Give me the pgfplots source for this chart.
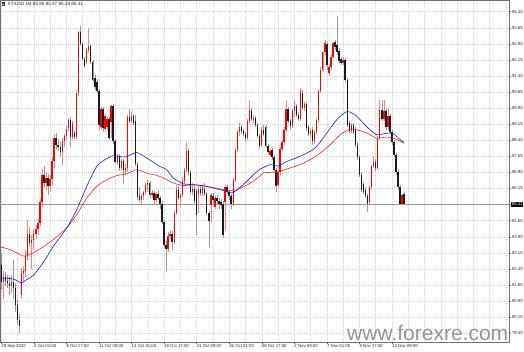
\documentclass[border=0pt]{standalone}
\usepackage{pgfplots}
\pgfplotsset{compat=1.18}
\usepackage{pgfplotstable}
\usepackage{fontspec}
\setmainfont{Liberation Sans}
\definecolor{gridc}{RGB}{205,212,218}
\definecolor{mablue}{RGB}{25,25,225}
\definecolor{mared}{RGB}{245,30,30}
\pgfplotstableread{
i o h l c
0 82.60 83.15 81.40 81.80
1 81.80 82.30 81.00 82.00
2 82.00 82.25 81.60 81.85
3 81.85 82.10 81.50 81.75
4 81.75 82.00 81.20 81.60
5 81.60 82.10 81.30 81.80
6 81.80 82.80 81.00 81.50
7 81.50 81.75 80.40 80.70
8 80.70 80.95 79.80 80.00
9 80.00 80.30 79.40 79.75
10 81.20 82.45 81.00 82.20
11 82.20 82.55 81.80 82.30
12 82.30 83.30 82.00 83.00
13 83.00 84.70 82.80 84.05
14 84.05 84.35 83.40 83.60
15 83.60 84.00 82.40 83.75
16 83.75 84.25 83.30 84.05
17 84.05 84.45 83.80 84.25
18 84.25 84.75 84.00 84.55
19 84.55 85.65 84.40 85.50
20 85.50 87.05 85.30 86.80
21 86.80 87.20 86.20 86.40
22 86.40 86.90 86.10 86.65
23 86.65 86.85 85.85 86.25
24 86.25 86.80 86.00 86.60
25 86.60 87.60 86.30 87.45
26 87.45 88.70 87.10 88.50
27 88.50 88.75 88.00 88.20
28 88.20 88.45 87.90 88.10
29 88.10 88.30 87.60 87.85
30 87.85 88.50 87.25 88.35
31 88.35 88.70 88.10 88.60
32 88.60 89.05 88.40 88.95
33 88.95 89.45 88.85 89.35
34 89.35 89.50 88.10 88.55
35 88.55 89.30 88.45 89.20
36 88.75 88.85 88.45 88.55
37 88.55 90.75 88.45 90.60
38 90.60 93.50 90.45 93.45
39 93.45 93.75 92.80 92.90
40 92.90 93.00 92.10 92.20
41 92.20 92.30 91.75 91.85
42 92.05 92.70 91.95 92.60
43 92.60 93.65 92.45 92.80
44 92.80 92.90 91.95 92.05
45 92.05 92.15 91.10 91.20
46 91.30 91.45 90.75 90.90
47 91.10 91.25 90.60 90.70
48 90.70 90.80 88.90 89.10
49 89.00 89.95 88.90 89.85
50 89.85 89.95 88.80 88.95
51 88.95 89.65 88.85 89.55
52 89.00 89.50 88.90 89.40
53 89.40 89.50 88.40 88.50
54 89.25 90.05 88.50 90.00
55 90.00 90.10 88.25 88.35
56 88.35 88.45 87.30 87.40
57 87.40 87.75 87.25 87.65
58 87.65 87.75 86.95 87.10
59 87.10 87.55 87.00 87.45
60 87.45 87.55 86.40 87.00
61 87.00 87.30 86.80 87.10
62 87.10 89.60 86.90 89.50
63 89.50 89.85 89.20 89.30
64 89.30 89.70 89.20 89.55
65 89.55 89.65 89.10 89.20
66 89.30 89.60 87.20 87.30
67 87.30 87.40 85.60 85.75
68 85.80 86.20 85.50 85.60
69 85.60 85.90 85.45 85.80
70 85.80 86.05 85.60 86.00
71 86.00 86.40 85.85 86.30
72 86.30 86.55 86.00 86.40
73 86.40 86.50 85.70 85.85
74 85.85 86.10 85.70 85.95
75 85.95 86.05 85.45 85.60
76 85.60 86.00 85.50 85.90
77 85.90 86.10 85.60 85.70
78 85.70 85.80 85.20 85.45
79 85.45 85.55 84.50 84.60
80 84.60 84.70 83.40 83.50
81 83.50 83.70 82.30 83.35
82 83.35 84.10 83.20 83.95
83 83.95 84.20 83.80 84.05
84 84.05 84.15 83.30 83.65
85 83.65 85.10 83.55 85.00
86 85.00 86.30 84.90 86.10
87 86.10 86.25 85.60 85.70
88 85.70 85.95 85.30 85.85
89 85.85 86.70 85.75 86.50
90 86.50 87.10 86.35 87.00
91 87.00 88.30 86.90 87.90
92 87.90 88.00 86.80 86.90
93 86.90 87.00 85.90 86.00
94 86.00 86.40 85.85 86.15
95 86.15 86.30 85.45 85.55
96 86.05 86.15 84.00 84.90
97 85.90 86.25 85.00 86.15
98 86.15 86.25 85.80 85.95
99 85.95 86.30 85.80 86.20
100 86.15 86.40 85.80 85.90
101 85.90 86.00 84.90 85.00
102 85.00 85.10 83.40 84.65
103 85.40 85.95 84.60 85.85
104 85.80 85.95 85.40 85.60
105 85.30 85.80 85.20 85.70
106 85.70 85.85 85.40 85.55
107 85.55 85.70 85.20 85.45
108 85.50 85.65 85.20 85.40
109 85.45 85.55 83.85 84.00
110 85.50 86.30 84.20 86.20
111 86.20 86.30 85.90 86.00
112 86.00 86.10 85.60 85.80
113 85.80 85.90 85.20 85.45
114 85.45 86.65 85.35 86.55
115 86.55 88.05 86.45 87.95
116 87.95 88.90 87.85 88.80
117 88.80 89.20 88.60 89.00
118 89.00 89.10 88.70 88.85
119 88.85 88.95 88.60 88.70
120 88.70 88.80 88.30 88.50
121 88.50 89.40 88.40 89.30
122 89.30 90.30 89.20 89.80
123 89.75 89.90 89.30 89.40
124 89.35 89.60 89.20 89.45
125 89.45 89.55 89.00 89.10
126 89.10 89.20 88.50 88.60
127 88.60 88.70 88.00 88.15
128 88.20 89.00 88.10 88.90
129 88.90 89.10 88.60 88.70
130 89.00 89.10 88.05 88.15
131 88.15 88.25 87.75 87.85
132 87.70 88.00 87.60 87.90
133 87.95 88.05 87.50 87.60
134 87.60 87.70 86.95 87.00
135 87.00 87.10 86.00 86.25
136 86.30 87.00 86.20 86.90
137 86.90 88.10 86.80 88.00
138 88.00 88.40 87.90 88.30
139 88.30 89.00 88.20 88.90
140 88.90 90.30 88.80 89.85
141 89.85 89.95 89.20 89.30
142 89.30 89.40 88.90 89.05
143 89.05 89.85 88.95 89.75
144 89.75 90.30 89.50 90.00
145 90.00 90.10 89.50 89.60
146 89.60 89.70 89.30 89.40
147 89.40 90.85 89.30 90.70
148 90.60 90.75 89.80 89.90
149 89.90 90.20 89.75 90.10
150 90.10 90.20 88.85 88.95
151 89.00 89.10 88.60 88.70
152 88.70 88.95 88.55 88.85
153 88.90 89.00 88.20 88.35
154 88.35 88.90 88.25 88.80
155 88.80 89.45 88.70 89.35
156 89.35 90.80 89.25 90.70
157 90.70 91.80 90.60 91.70
158 91.70 92.55 91.60 92.50
159 92.50 93.10 92.40 92.95
160 92.90 93.00 91.70 91.90
161 91.55 91.90 91.40 91.80
162 91.80 92.40 91.70 92.30
163 92.30 93.00 92.20 92.95
164 93.00 93.10 92.60 92.75
165 92.85 94.20 92.40 92.50
166 92.55 92.70 92.00 92.10
167 92.20 92.30 91.90 92.00
168 92.00 92.30 91.90 92.15
169 92.15 92.25 91.10 91.20
170 91.20 91.30 89.00 89.10
171 89.20 89.30 88.75 88.85
172 88.85 89.20 88.75 89.10
173 89.10 89.20 88.70 88.80
174 88.90 89.00 88.10 88.20
175 88.20 88.30 87.50 87.60
176 87.60 87.70 86.70 86.80
177 86.80 86.90 86.00 86.10
178 86.35 86.45 85.90 86.00
179 86.10 86.20 85.70 85.80
180 85.80 85.90 85.05 85.45
181 85.50 86.25 85.40 86.20
182 86.20 87.25 86.10 87.20
183 87.20 87.65 87.10 87.40
184 87.40 87.55 86.95 87.10
185 87.10 88.60 87.00 88.50
186 88.50 90.30 88.40 89.80
187 89.80 90.30 89.30 89.40
188 89.40 90.30 89.30 89.75
189 89.75 89.85 88.90 89.00
190 89.00 89.90 88.90 89.55
191 89.55 89.65 88.70 88.80
192 88.80 88.90 88.20 88.30
193 88.30 88.40 87.60 87.70
194 87.70 87.80 86.80 86.90
195 86.90 87.00 86.10 86.20
196 86.20 86.30 85.40 85.45
197 85.45 85.90 85.40 85.85
198 85.90 85.97 85.39 85.41
}\candles
\pgfplotstableread{
x y
-0.5 81.98
4.32 81.95
6.78 81.90
10.07 81.75
12.53 81.90
15.77 82.10
20.69 82.70
25.6 83.45
32.19 84.31
37.1 85.16
42.01 86.25
46.93 87.18
50.17 87.45
55.09 87.68
60.84 87.62
66.58 87.83
71.5 87.57
78.03 87.18
81.33 87.03
84.57 86.64
89.48 86.37
94.4 86.33
99.31 86.28
104.23 86.17
110.81 86.02
114.05 85.97
118.97 86.33
123.88 86.79
127.17 87.05
132.1 87.26
136.2 87.20
140.3 87.41
146.8 87.65
151.7 87.88
155.0 88.11
160.0 88.74
164.9 89.36
169.8 89.74
173.9 89.59
177.9 89.20
181.2 88.89
184.5 88.66
187.8 88.70
191.0 88.74
193.5 88.66
195.1 88.50
198.0 88.30
}\blueMA
\pgfplotstableread{
x y
-0.5 83.43
4.32 83.30
9.24 83.07
11.7 82.99
15.77 83.15
20.69 83.43
25.6 83.77
32.19 84.31
37.1 84.93
42.01 85.70
46.93 86.25
51.84 86.56
56.76 86.75
61.67 86.84
66.58 87.03
71.5 86.87
78.03 86.71
84.57 86.41
89.48 86.29
94.4 86.33
100.98 86.25
107.5 86.13
114.05 86.05
120.6 86.30
127.17 86.72
128.8 86.88
135.4 86.92
140.3 87.06
146.8 87.27
151.7 87.49
156.7 87.80
161.6 88.19
166.5 88.66
171.4 88.92
174.7 88.89
179.6 88.74
184.5 88.50
189.4 88.55
192.7 88.50
198.0 88.27
}\redMA
\begin{document}
\begin{tikzpicture}
\useasboundingbox (0,-10pt) rectangle (524pt,342pt);
\begin{axis}[
  at={(0,0)}, anchor=south west,
  scale only axis, width=509pt, height=342pt,
  xmin=-0.59, xmax=249.5, ymin=78.99, ymax=94.945,
  axis line style={black!55, line width=0.5pt},
  tick align=outside, major tick length=2pt, minor tick length=0pt,
  tick style={black!60, line width=0.4pt},
  xtick pos=bottom, ytick pos=right, yticklabel pos=right,
  xtick={0,16,32,48,64,80,96,112,128,144,160,176,192},
  xticklabels={29 Sep 2022,4 Oct 01:00,6 Oct 17:00,11 Oct 09:00,14 Oct 01:00,18 Oct 17:00,21 Oct 09:00,26 Oct 01:00,28 Oct 17:00,2 Nov 09:00,7 Nov 01:00,9 Nov 17:00,14 Nov 09:00},
  minor xtick={8,16,...,248},
  ytick={79.40,80.15,80.90,81.65,82.40,83.15,83.90,84.65,86.15,86.90,87.65,88.40,89.15,89.90,90.65,91.40,92.15,92.90,93.65,94.40},
  xmajorgrids, xminorgrids, ymajorgrids,
  major grid style={gridc, line width=0.4pt, dash pattern=on 1pt off 1pt},
  minor grid style={gridc, line width=0.4pt, dash pattern=on 1pt off 1pt},
  ticklabel style={font=\fontsize{4.3}{5}\selectfont, text=black!85},
  yticklabel style={/pgf/number format/fixed, /pgf/number format/fixed zerofill, /pgf/number format/precision=2, /pgf/number format/assume math mode=true, anchor=west, inner sep=0.8pt},
  xticklabel style={anchor=north west, inner sep=0.6pt, xshift=-0.6pt},
  extra y ticks={85.41},
  extra y tick style={ymajorgrids=true, major grid style={solid, black!40, line width=0.5pt},
    yticklabel style={fill=black, text=white, inner sep=0.7pt}},
]
% bullish wicks
\addplot[forget plot, draw=none, mark=none,
  y filter/.expression={\thisrow{c}>=\thisrow{o} ? y : nan},
  error bars/.cd, y dir=both, y explicit, error mark=none,
  error bar style={draw=red!50, line width=0.55pt}]
  table[x=i, y expr={(\thisrow{h}+\thisrow{l})/2}, y error expr={(\thisrow{h}-\thisrow{l})/2}] {\candles};
% bearish wicks
\addplot[forget plot, draw=none, mark=none,
  y filter/.expression={\thisrow{c}<\thisrow{o} ? y : nan},
  error bars/.cd, y dir=both, y explicit, error mark=none,
  error bar style={draw=black!40, line width=0.55pt}]
  table[x=i, y expr={(\thisrow{h}+\thisrow{l})/2}, y error expr={(\thisrow{h}-\thisrow{l})/2}] {\candles};
% bullish bodies
\addplot[forget plot, draw=none, mark=none,
  y filter/.expression={\thisrow{c}>=\thisrow{o} ? y : nan},
  error bars/.cd, y dir=both, y explicit, error mark=none,
  error bar style={draw=red, line width=1.4pt}]
  table[x=i, y expr={(\thisrow{o}+\thisrow{c})/2}, y error expr={max(abs(\thisrow{c}-\thisrow{o})/2,0.03)}] {\candles};
% bearish bodies
\addplot[forget plot, draw=none, mark=none,
  y filter/.expression={\thisrow{c}<\thisrow{o} ? y : nan},
  error bars/.cd, y dir=both, y explicit, error mark=none,
  error bar style={draw=black!90, line width=1.4pt}]
  table[x=i, y expr={(\thisrow{o}+\thisrow{c})/2}, y error expr={max(abs(\thisrow{c}-\thisrow{o})/2,0.03)}] {\candles};
% moving averages
\addplot[mared, line width=0.6pt, mark=none, smooth, tension=0.4] table[x=x, y=y] {\redMA};
\addplot[mablue, line width=0.6pt, mark=none, smooth, tension=0.4] table[x=x, y=y] {\blueMA};
\end{axis}
\fill[black!80] (1.5pt,336pt) rectangle (4.5pt,339.5pt);
\fill[white] (2.3pt,336.8pt) -- (3.9pt,336.8pt) -- (3.1pt,338.6pt) -- cycle;
\node[anchor=west, font=\fontsize{4.6}{5}\selectfont, inner sep=0, text=black!85] at (7.5pt,337.8pt) {XTIUSD,H4 85.90 85.97 85.39 85.41};
\node[anchor=base west, font=\fontsize{21}{21}\selectfont, text=black!42, inner sep=0] at (347pt,1.2pt) {www.forexre.com};
\end{tikzpicture}
\end{document}
